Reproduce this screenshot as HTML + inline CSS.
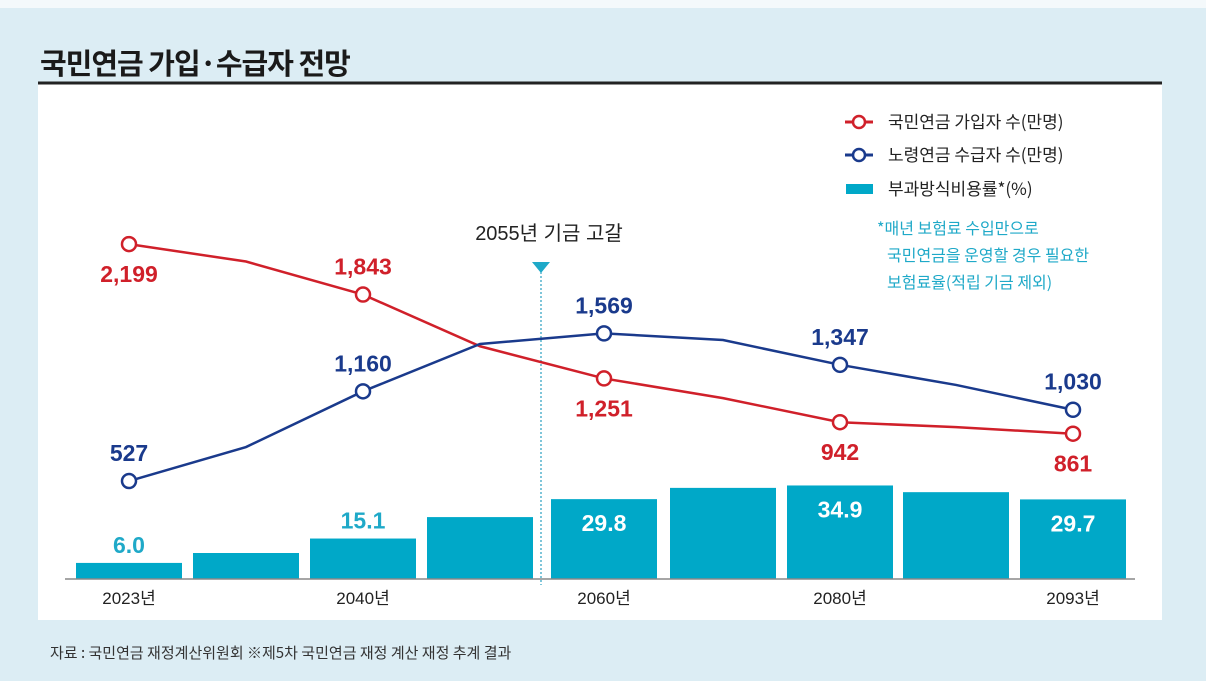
<!DOCTYPE html>
<html><head><meta charset="utf-8">
<style>
html,body{margin:0;padding:0;}
body{width:1206px;height:681px;background:#dcedf4;position:relative;overflow:hidden;font-family:"Liberation Sans","Noto Sans CJK KR",sans-serif;}
svg{position:absolute;left:0;top:0;}
</style></head>
<body>
<svg width="1206" height="681" xmlns="http://www.w3.org/2000/svg">
  <rect x="0" y="0" width="1206" height="8" fill="#f4f9fb"/>
  <rect x="38" y="82" width="1124" height="538" fill="#ffffff"/>
  <text x="40" y="74" font-size="29" font-weight="bold" fill="#1a1a1a" font-family="'Noto Sans CJK KR',sans-serif" letter-spacing="-1">국민연금 가입·수급자 전망</text>
  <line x1="38" y1="83" x2="1162" y2="83" stroke="#222" stroke-width="3"/>
  <g id="bars"></g>
  <line x1="65" y1="579" x2="1135" y2="579" stroke="#888" stroke-width="1.5"/>
  <line x1="541" y1="272" x2="541" y2="585" stroke="#2a9fc0" stroke-width="1.2" stroke-dasharray="2,2"/>
  <polygon points="532,262 550,262 541,273" fill="#1fa9c8"/>
  <text x="549" y="240" font-size="20" text-anchor="middle" fill="#222" font-family="'Liberation Sans Narrow','Liberation Sans','Noto Sans CJK KR',sans-serif">2055년 기금 고갈</text>
  <g id="lines"></g>
  <g id="xlabels"></g>
  <g font-size="17" fill="#222">
    <g>
      <line x1="845" y1="122" x2="873" y2="122" stroke="#d0202a" stroke-width="3"/>
      <circle cx="859" cy="122" r="6" fill="#fff" stroke="#d0202a" stroke-width="2.5"/>
      <text x="888" y="128" font-family="'Noto Sans CJK KR',sans-serif">국민연금 가입자 수(만명)</text>
    </g>
    <g>
      <line x1="845" y1="155" x2="873" y2="155" stroke="#1a3a8c" stroke-width="3"/>
      <circle cx="859" cy="155" r="6" fill="#fff" stroke="#1a3a8c" stroke-width="2.5"/>
      <text x="888" y="161" font-family="'Noto Sans CJK KR',sans-serif">노령연금 수급자 수(만명)</text>
    </g>
    <g>
      <rect x="846" y="184" width="27" height="10" fill="#00a8c8"/>
      <text x="888" y="195" font-family="'Noto Sans CJK KR',sans-serif">부과방식비용률*(%)</text>
    </g>
  </g>
  <g font-size="16" fill="#1fa9c8" font-family="'Noto Sans CJK KR',sans-serif">
    <text x="877" y="234">*매년 보험료 수입만으로</text>
    <text x="887" y="261">국민연금을 운영할 경우 필요한</text>
    <text x="887" y="288">보험료율(적립 기금 제외)</text>
  </g>
  <text x="50" y="658" font-size="15" fill="#333" font-family="'Noto Sans CJK KR',sans-serif">자료 : 국민연금 재정계산위원회 ※제5차 국민연금 재정 계산 재정 추계 결과</text>
</svg>
<script>
const years = [2023, 2035, 2040, 2050, 2060, 2070, 2080, 2090, 2093];
const tickLabels = ["2023년", "", "2040년", "", "2060년", "", "2080년", "", "2093년"];
const rateValues = [6.0, 9.7, 15.1, 23.1, 29.8, 34.0, 34.9, 32.4, 29.7];
const rateLabels = ["6.0", "", "15.1", "", "29.8", "", "34.9", "", "29.7"];
const subscribers = [2199, 2076, 1843, 1478, 1251, 1112, 942, 907, 861];
const subLabels = ["2,199", "", "1,843", "", "1,251", "", "942", "", "861"];
const recipients = [527, 767, 1160, 1494, 1569, 1522, 1347, 1205, 1030];
const recLabels = ["527", "", "1,160", "", "1,569", "", "1,347", "", "1,030"];

const NS = "http://www.w3.org/2000/svg";
const centers = [129, 246, 363, 480, 604, 723, 840, 956, 1073];
function xPos(i){ return centers[i]; }
function yBar(v){ return 579 - v * 2.68; }
function yLine(v){ return 555.7 - v * 0.1417; }
function mk(tag, attrs, parent){ const e = document.createElementNS(NS, tag); for (const k in attrs) e.setAttribute(k, attrs[k]); parent.appendChild(e); return e; }
const narrow = "'Liberation Sans Narrow','Liberation Sans',sans-serif";

const gb = document.getElementById('bars');
rateValues.forEach((v, i) => {
  const r = mk('rect', {x: xPos(i) - 53, y: yBar(v), width: 106, height: 579 - yBar(v), fill: '#00a8c8'}, gb);
  
  
  if (rateLabels[i]) {
    const inside = v > 25;
    const t = mk('text', {x: xPos(i), y: inside ? yBar(v) + 32 : yBar(v) - 10, 'font-size': 23, 'font-weight': 'bold', 'text-anchor': 'middle', fill: inside ? '#fff' : '#1fa9c8', 'font-family': narrow}, gb);
    t.textContent = rateLabels[i];
    
    
  }
});

const gl = document.getElementById('lines');
function drawSeries(vals, labels, color, name, above){
  const p = mk('polyline', {points: vals.map((v, i) => xPos(i) + ',' + yLine(v)).join(' '), fill: 'none', stroke: color, 'stroke-width': 2.5}, gl);
  
  
  vals.forEach((v, i) => {
    if (!labels[i]) return;
    const c = mk('circle', {cx: xPos(i), cy: yLine(v), r: 7, fill: '#fff', stroke: color, 'stroke-width': 2.5}, gl);
    
    
    const up = above[i];
    const t = mk('text', {x: xPos(i), y: up ? yLine(v) - 20 : yLine(v) + 38, 'font-size': 23, 'font-weight': 'bold', 'text-anchor': 'middle', fill: color, 'font-family': narrow}, gl);
    t.textContent = labels[i];
    
    
  });
}
drawSeries(subscribers, subLabels, '#d0202a', 'subscribers', [false, false, true, false, false, false, false, false, false]);
drawSeries(recipients, recLabels, '#1a3a8c', 'recipients', [true, true, true, true, true, true, true, true, true]);

const gx = document.getElementById('xlabels');
tickLabels.forEach((l, i) => {
  if (!l) return;
  const t = mk('text', {x: xPos(i), y: 604, 'font-size': 17, 'text-anchor': 'middle', fill: '#222', 'font-family': "'Liberation Sans Narrow','Liberation Sans','Noto Sans CJK KR',sans-serif"}, gx);
  t.textContent = l;
  
  
});
</script>
</body></html>
